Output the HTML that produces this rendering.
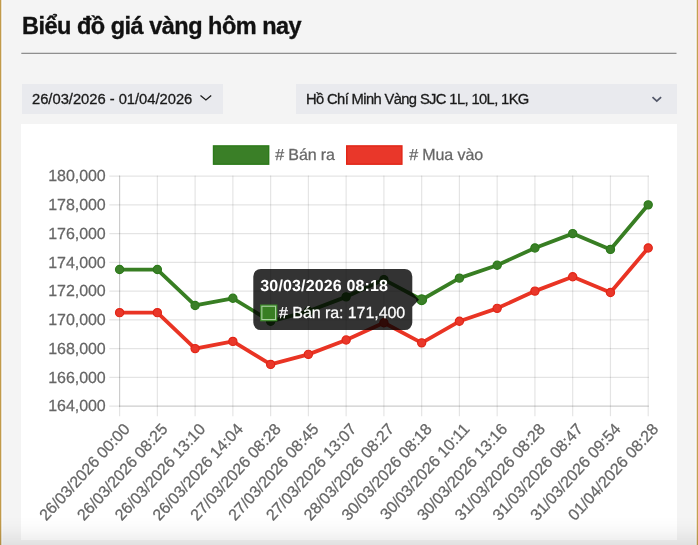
<!DOCTYPE html>
<html lang="vi">
<head>
<meta charset="utf-8">
<title>Biểu đồ giá vàng hôm nay</title>
<style>
html,body{margin:0;padding:0;}
body{-webkit-font-smoothing:antialiased;width:698px;height:545px;overflow:hidden;position:relative;background:#f4f4f4;font-family:"Liberation Sans",sans-serif;}
.edge-l{position:absolute;left:0;top:0;width:1px;height:545px;background:#c19a4a;}
.edge-l2{position:absolute;left:1px;top:0;width:1px;height:545px;background:#e9dfc9;}
.edge-l3{position:absolute;left:2px;top:0;width:1px;height:545px;background:#f7f8fc;}
.edge-r{position:absolute;left:697px;top:0;width:1px;height:545px;background:#c4a050;}
.edge-r2{position:absolute;left:696px;top:0;width:1px;height:545px;background:#ede3cc;}
.edge-r3{position:absolute;left:695px;top:0;width:1px;height:545px;background:#f6f7f9;}
h2{will-change:transform;position:absolute;left:22.2px;top:10.7px;margin:0;font-size:23.5px;letter-spacing:-0.5px;line-height:30px;font-weight:bold;color:#111;-webkit-text-stroke:0.35px #111;white-space:nowrap;}
.dd{position:absolute;top:84px;height:30px;background:#e9eaee;color:#1a1a1a;font-size:14.75px;line-height:30px;-webkit-text-stroke:0.3px #1a1a1a;white-space:nowrap;}
.dd span{will-change:transform;position:absolute;left:10px;top:0;}
.dd svg{position:absolute;}
.card{position:absolute;left:21.3px;top:124px;width:655.5px;height:415.8px;background:#fff;}
.chart{position:absolute;left:0;top:0;will-change:transform;}
.fade{position:absolute;left:0;top:517px;width:698px;height:28px;background:linear-gradient(to bottom,rgba(0,0,0,0) 0px,rgba(0,0,0,0.012) 8px,rgba(0,0,0,0.025) 13px,rgba(0,0,0,0.04) 18px,rgba(0,0,0,0.06) 23px,rgba(0,0,0,0.075) 28px);}
</style>
</head>
<body>
<div class="edge-l"></div><div class="edge-l2"></div><div class="edge-l3"></div>
<div class="edge-r3"></div><div class="edge-r2"></div><div class="edge-r"></div>
<h2>Biểu đồ giá vàng hôm nay</h2>
<div class="dd" style="left:21.5px;width:201px;"><span style="left:10.4px;letter-spacing:-0.02px">26/03/2026 - 01/04/2026</span>
</div>
<div class="dd" style="left:296px;width:380.5px;"><span style="left:9.5px;letter-spacing:-0.63px">Hồ Chí Minh Vàng SJC 1L, 10L, 1KG</span>
</div>
<svg style="position:absolute;left:0;top:0" width="698" height="130" viewBox="0 0 698 130"><rect x="21.3" y="52.75" width="655.2" height="1.15" fill="#848484"/><path d="M200.5,95.5 L205.9,100.0 L211.2,95.5" fill="none" stroke="#1c1c1c" stroke-width="1.3"/><path d="M652.5,97.1 L656.8,101.2 L661.1,97.1" fill="none" stroke="#525768" stroke-width="1.7"/></svg>
<div class="card"></div>
<svg class="chart" width="698" height="545" viewBox="0 0 698 545" style="text-rendering:geometricPrecision">
<g stroke="rgba(0,0,0,0.105)" stroke-width="1.2" fill="none">
<line x1="109.3" y1="176.10" x2="648.80" y2="176.10"/>
<line x1="109.3" y1="204.85" x2="648.80" y2="204.85"/>
<line x1="109.3" y1="233.60" x2="648.80" y2="233.60"/>
<line x1="109.3" y1="262.35" x2="648.80" y2="262.35"/>
<line x1="109.3" y1="291.10" x2="648.80" y2="291.10"/>
<line x1="109.3" y1="319.85" x2="648.80" y2="319.85"/>
<line x1="109.3" y1="348.60" x2="648.80" y2="348.60"/>
<line x1="109.3" y1="377.35" x2="648.80" y2="377.35"/>
<line x1="109.3" y1="406.10" x2="648.80" y2="406.10"/>
<line x1="119.60" y1="175.50" x2="119.60" y2="416.2"/>
<line x1="157.36" y1="175.50" x2="157.36" y2="416.2"/>
<line x1="195.11" y1="175.50" x2="195.11" y2="416.2"/>
<line x1="232.87" y1="175.50" x2="232.87" y2="416.2"/>
<line x1="270.63" y1="175.50" x2="270.63" y2="416.2"/>
<line x1="308.39" y1="175.50" x2="308.39" y2="416.2"/>
<line x1="346.14" y1="175.50" x2="346.14" y2="416.2"/>
<line x1="383.90" y1="175.50" x2="383.90" y2="416.2"/>
<line x1="421.66" y1="175.50" x2="421.66" y2="416.2"/>
<line x1="459.41" y1="175.50" x2="459.41" y2="416.2"/>
<line x1="497.17" y1="175.50" x2="497.17" y2="416.2"/>
<line x1="534.93" y1="175.50" x2="534.93" y2="416.2"/>
<line x1="572.69" y1="175.50" x2="572.69" y2="416.2"/>
<line x1="610.44" y1="175.50" x2="610.44" y2="416.2"/>
<line x1="648.20" y1="175.50" x2="648.20" y2="416.2"/>
</g>
<line x1="119.60" y1="175.50" x2="119.60" y2="406.70" stroke="rgba(0,0,0,0.105)" stroke-width="1.2"/>
<line x1="119.00" y1="406.10" x2="648.80" y2="406.10" stroke="rgba(0,0,0,0.105)" stroke-width="1.2"/>
<g font-family="Liberation Sans, sans-serif" font-size="16" letter-spacing="-0.05" fill="#666" stroke="#666" stroke-width="0.25" text-anchor="end">
<text x="105.7" y="181.40">180,000</text>
<text x="105.7" y="210.15">178,000</text>
<text x="105.7" y="238.90">176,000</text>
<text x="105.7" y="267.65">174,000</text>
<text x="105.7" y="296.40">172,000</text>
<text x="105.7" y="325.15">170,000</text>
<text x="105.7" y="353.90">168,000</text>
<text x="105.7" y="382.65">166,000</text>
<text x="105.7" y="411.40">164,000</text>
</g>
<g font-family="Liberation Sans, sans-serif" font-size="16" letter-spacing="0" fill="#666" stroke="#666" stroke-width="0.25" text-anchor="end">
<text transform="translate(126.60,426.10) rotate(-47.4)" y="5.5">26/03/2026 00:00</text>
<text transform="translate(164.36,426.10) rotate(-47.4)" y="5.5">26/03/2026 08:25</text>
<text transform="translate(202.11,426.10) rotate(-47.4)" y="5.5">26/03/2026 13:10</text>
<text transform="translate(239.87,426.10) rotate(-47.4)" y="5.5">26/03/2026 14:04</text>
<text transform="translate(277.63,426.10) rotate(-47.4)" y="5.5">27/03/2026 08:28</text>
<text transform="translate(315.39,426.10) rotate(-47.4)" y="5.5">27/03/2026 08:45</text>
<text transform="translate(353.14,426.10) rotate(-47.4)" y="5.5">27/03/2026 13:07</text>
<text transform="translate(390.90,426.10) rotate(-47.4)" y="5.5">28/03/2026 08:27</text>
<text transform="translate(428.66,426.10) rotate(-47.4)" y="5.5">30/03/2026 08:18</text>
<text transform="translate(466.41,426.10) rotate(-47.4)" y="5.5">30/03/2026 10:11</text>
<text transform="translate(504.17,426.10) rotate(-47.4)" y="5.5">30/03/2026 13:16</text>
<text transform="translate(541.93,426.10) rotate(-47.4)" y="5.5">31/03/2026 08:28</text>
<text transform="translate(579.69,426.10) rotate(-47.4)" y="5.5">31/03/2026 08:47</text>
<text transform="translate(617.44,426.10) rotate(-47.4)" y="5.5">31/03/2026 09:54</text>
<text transform="translate(655.20,426.10) rotate(-47.4)" y="5.5">01/04/2026 08:28</text>
</g>
<polyline points="119.60,269.54 157.36,269.54 195.11,305.48 232.87,298.29 270.63,321.29 308.39,311.23 346.14,296.85 383.90,279.60 421.66,299.73 459.41,278.16 497.17,265.23 534.93,247.97 572.69,233.60 610.44,249.41 648.20,204.85" fill="none" stroke="#387e23" stroke-width="3.8" stroke-linejoin="round"/>
<polyline points="119.60,312.66 157.36,312.66 195.11,348.60 232.87,341.41 270.63,364.41 308.39,354.35 346.14,339.98 383.90,322.73 421.66,342.85 459.41,321.29 497.17,308.35 534.93,291.10 572.69,276.73 610.44,292.54 648.20,247.97" fill="none" stroke="#e93424" stroke-width="3.8" stroke-linejoin="round"/>
<circle cx="119.60" cy="269.54" r="4.10" fill="#3a7f27" stroke="#2c7a1a" stroke-width="1.2"/>
<circle cx="157.36" cy="269.54" r="4.10" fill="#3a7f27" stroke="#2c7a1a" stroke-width="1.2"/>
<circle cx="195.11" cy="305.48" r="4.10" fill="#3a7f27" stroke="#2c7a1a" stroke-width="1.2"/>
<circle cx="232.87" cy="298.29" r="4.10" fill="#3a7f27" stroke="#2c7a1a" stroke-width="1.2"/>
<circle cx="270.63" cy="321.29" r="4.10" fill="#3a7f27" stroke="#2c7a1a" stroke-width="1.2"/>
<circle cx="308.39" cy="311.23" r="4.10" fill="#3a7f27" stroke="#2c7a1a" stroke-width="1.2"/>
<circle cx="346.14" cy="296.85" r="4.10" fill="#3a7f27" stroke="#2c7a1a" stroke-width="1.2"/>
<circle cx="383.90" cy="279.60" r="4.10" fill="#3a7f27" stroke="#2c7a1a" stroke-width="1.2"/>
<circle cx="421.66" cy="299.73" r="4.90" fill="#3a7f27" stroke="#2c7a1a" stroke-width="1.2"/>
<circle cx="459.41" cy="278.16" r="4.10" fill="#3a7f27" stroke="#2c7a1a" stroke-width="1.2"/>
<circle cx="497.17" cy="265.23" r="4.10" fill="#3a7f27" stroke="#2c7a1a" stroke-width="1.2"/>
<circle cx="534.93" cy="247.97" r="4.10" fill="#3a7f27" stroke="#2c7a1a" stroke-width="1.2"/>
<circle cx="572.69" cy="233.60" r="4.10" fill="#3a7f27" stroke="#2c7a1a" stroke-width="1.2"/>
<circle cx="610.44" cy="249.41" r="4.10" fill="#3a7f27" stroke="#2c7a1a" stroke-width="1.2"/>
<circle cx="648.20" cy="204.85" r="4.10" fill="#3a7f27" stroke="#2c7a1a" stroke-width="1.2"/>
<circle cx="119.60" cy="312.66" r="4.10" fill="#e9372a" stroke="#e22516" stroke-width="1.2"/>
<circle cx="157.36" cy="312.66" r="4.10" fill="#e9372a" stroke="#e22516" stroke-width="1.2"/>
<circle cx="195.11" cy="348.60" r="4.10" fill="#e9372a" stroke="#e22516" stroke-width="1.2"/>
<circle cx="232.87" cy="341.41" r="4.10" fill="#e9372a" stroke="#e22516" stroke-width="1.2"/>
<circle cx="270.63" cy="364.41" r="4.10" fill="#e9372a" stroke="#e22516" stroke-width="1.2"/>
<circle cx="308.39" cy="354.35" r="4.10" fill="#e9372a" stroke="#e22516" stroke-width="1.2"/>
<circle cx="346.14" cy="339.98" r="4.10" fill="#e9372a" stroke="#e22516" stroke-width="1.2"/>
<circle cx="383.90" cy="322.73" r="4.10" fill="#e9372a" stroke="#e22516" stroke-width="1.2"/>
<circle cx="421.66" cy="342.85" r="4.10" fill="#e9372a" stroke="#e22516" stroke-width="1.2"/>
<circle cx="459.41" cy="321.29" r="4.10" fill="#e9372a" stroke="#e22516" stroke-width="1.2"/>
<circle cx="497.17" cy="308.35" r="4.10" fill="#e9372a" stroke="#e22516" stroke-width="1.2"/>
<circle cx="534.93" cy="291.10" r="4.10" fill="#e9372a" stroke="#e22516" stroke-width="1.2"/>
<circle cx="572.69" cy="276.73" r="4.10" fill="#e9372a" stroke="#e22516" stroke-width="1.2"/>
<circle cx="610.44" cy="292.54" r="4.10" fill="#e9372a" stroke="#e22516" stroke-width="1.2"/>
<circle cx="648.20" cy="247.97" r="4.10" fill="#e9372a" stroke="#e22516" stroke-width="1.2"/>
<rect x="213.5" y="145.9" width="55.2" height="18.3" fill="#3a7f27" stroke="#2c7a1a" stroke-width="1.4"/>
<rect x="346.7" y="145.9" width="55.2" height="18.3" fill="#e9372a" stroke="#e22516" stroke-width="1.4"/>
<g font-family="Liberation Sans, sans-serif" font-size="16" letter-spacing="-0.1" fill="#666" stroke="#666" stroke-width="0.25">
<text x="275.2" y="160.3"># Bán ra</text>
<text x="409.2" y="160.3"># Mua vào</text>
</g>
<path d="M260.8,268.9 H404.8 A7.5,7.5 0 0 1 412.3,276.4 V292.7 L419.0,299.7 L412.3,306.7 V322.6 A7.5,7.5 0 0 1 404.8,330.1 H260.8 A7.5,7.5 0 0 1 253.3,322.6 V276.4 A7.5,7.5 0 0 1 260.8,268.9 Z" fill="rgba(0,0,0,0.8)"/>
<text x="260.3" y="291.0" font-family="Liberation Sans, sans-serif" font-size="16" letter-spacing="0.15" font-weight="bold" fill="#fff">30/03/2026 08:18</text>
<rect x="260.1" y="304.5" width="17.2" height="16.8" fill="#3c8a2a"/>
<rect x="261.3" y="305.7" width="14.8" height="14.4" fill="#a9cf9f"/>
<rect x="262.4" y="306.8" width="12.6" height="12.2" fill="#387e23"/>
<text x="279.1" y="318.4" font-family="Liberation Sans, sans-serif" font-size="16" letter-spacing="-0.07" fill="#fff" stroke="#fff" stroke-width="0.25"># Bán ra: 171,400</text>
</svg>
<div class="fade"></div>
</body>
</html>
